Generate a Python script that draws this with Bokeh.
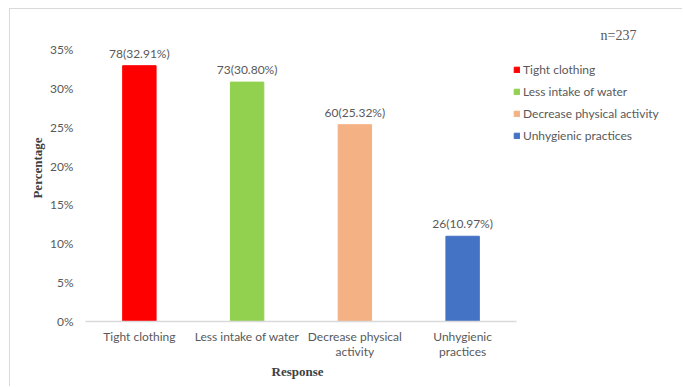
from bokeh.plotting import figure
from bokeh.models import (ColumnDataSource, Range1d, LabelSet, Label, Title,
                          Legend, LegendItem, FixedTicker, PrintfTickFormatter)
from bokeh.core.properties import value
from bokeh.embed import file_html
from bokeh.resources import INLINE

categories = ["Tight clothing", "Less intake of water", "Decrease physical activity", "Unhygienic practices"]
tick_labels = ["Tight clothing", "Less intake of water", "Decrease physical\nactivity", "Unhygienic\npractices"]
counts = [78, 73, 60, 26]
percents = [32.91, 30.80, 25.32, 10.97]
colors = ["#FF0000", "#92D050", "#F4B183", "#4472C4"]
y_ticks = [0, 5, 10, 15, 20, 25, 30, 35]
sample_note = "n=237"

bar_labels = [f"{c}({p:.2f}%)" for c, p in zip(counts, percents)]
xpos = [i + 0.5 for i in range(len(categories))]
n_cat = len(categories)

src = ColumnDataSource(dict(x=xpos, cat=categories, val=percents, color=colors, lab=bar_labels))

p = figure(x_range=Range1d(0, 5.55), y_range=Range1d(0, 39.5),
           width=673, height=378, output_backend="svg", toolbar_location=None,
           min_border_left=75, min_border_right=0, min_border_top=5, min_border_bottom=66)
p.margin = (8, 0, 0, 9)
p.styles = {"border-left": "1px solid #d9d9d9", "border-top": "1px solid #d9d9d9"}
p.outline_line_color = None
p.xgrid.grid_line_color = None
p.ygrid.grid_line_color = None
p.background_fill_color = "white"
p.border_fill_color = "white"

r = p.vbar(x="x", top="val", width=0.31, color="color", source=src)

p.add_layout(LabelSet(x="x", y="val", text="lab", source=src, y_offset=5,
                      text_align="center", text_baseline="bottom",
                      text_font=value("Lato"), text_font_size=value("12px"), text_color="#595959"))

# x axis
p.xaxis.bounds = (0, n_cat)
p.xaxis.ticker = FixedTicker(ticks=xpos)
p.xaxis.major_label_overrides = {x: t for x, t in zip(xpos, tick_labels)}
p.xaxis.axis_line_color = "#d9d9d9"
p.xaxis.axis_line_width = 1.5
p.xaxis.major_tick_line_color = None
p.xaxis.minor_tick_line_color = None
p.xaxis.major_label_standoff = 1
p.xaxis.major_label_text_font = "Lato"
p.xaxis.major_label_text_font_size = "12px"
p.xaxis.major_label_text_line_height = 1.0
p.xaxis.major_label_text_color = "#595959"

# x axis title, centred under the category region
p.add_layout(Title(text="Response", align="left", offset=186, standoff=0,
                   text_font="Liberation Serif", text_font_style="bold",
                   text_font_size="13px", text_color="#404040"), "below")

# y axis
p.yaxis.axis_line_color = None
p.yaxis.major_tick_line_color = None
p.yaxis.minor_tick_line_color = None
p.yaxis.ticker = FixedTicker(ticks=y_ticks)
p.yaxis.formatter = PrintfTickFormatter(format="%d%%")
p.yaxis.major_label_standoff = 6
p.yaxis.major_label_text_font = "Lato"
p.yaxis.major_label_text_font_size = "12px"
p.yaxis.major_label_text_color = "#595959"
p.yaxis.axis_label = "Percentage"
p.yaxis.axis_label_text_font = "Liberation Serif"
p.yaxis.axis_label_text_font_style = "bold"
p.yaxis.axis_label_text_font_size = "13px"
p.yaxis.axis_label_text_color = "#404040"
p.yaxis.axis_label_standoff = 2

# legend (screen px relative to the plotting frame)
items = [LegendItem(label=c, renderers=[r], index=i) for i, c in enumerate(categories)]
legend = Legend(items=items, location=(428, 178), margin=0, padding=0,
                glyph_width=7, glyph_height=7, label_height=14, spacing=7,
                label_standoff=3, label_text_font="Lato", label_text_font_size="12px",
                label_text_color="#595959", background_fill_alpha=0, border_line_alpha=0)
p.add_layout(legend)

p.add_layout(Label(x=515, y=286, x_units="screen", y_units="screen", text=sample_note,
                   text_font="Liberation Serif", text_font_size="14px", text_color="#595959",
                   text_baseline="middle"))

open("out.html", "w").write(file_html(p, INLINE))
